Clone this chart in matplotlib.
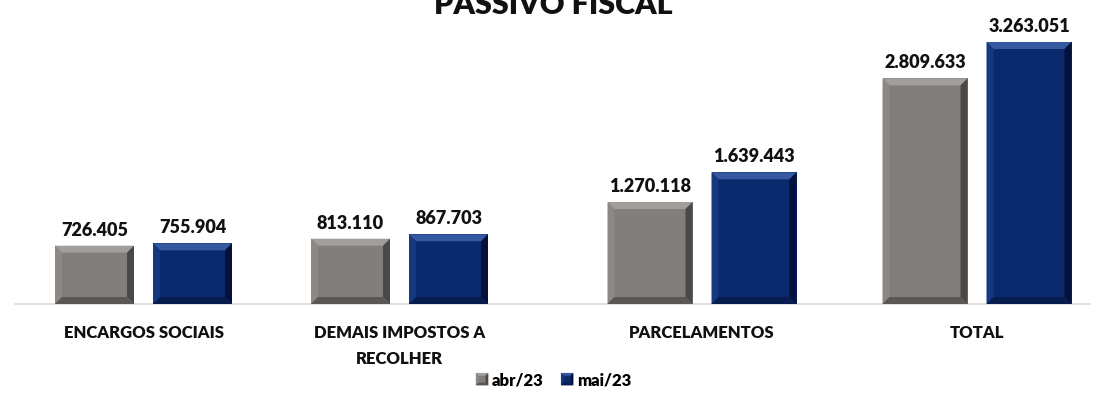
import matplotlib.pyplot as plt
from matplotlib.patches import Polygon, Rectangle
from matplotlib.legend_handler import HandlerBase

plt.rcParams['font.family'] = ['Lato', 'DejaVu Sans']

# dados
categorias = ['ENCARGOS SOCIAIS', 'DEMAIS IMPOSTOS A\nRECOLHER', 'PARCELAMENTOS', 'TOTAL']
abr23 = [726405, 813110, 1270118, 2809633]
mai23 = [755904, 867703, 1639443, 3263051]
series = ['abr/23', 'mai/23']

# layout (em pixels da imagem)
centros = [143.5, 399.5, 702, 977]
larg = [79, 79, 85, 85]
gap = 19

cinza = dict(face='#827e7b', top='#a29e9b', left='#8c8885', right='#4c4846', bottom='#5b5755')
azul = dict(face='#0b2a6d', top='#3658a0', left='#163880', right='#03123a', bottom='#071d50')

fig = plt.figure(figsize=(11.06, 4.13), dpi=100)
ax = fig.add_axes([0, 1 - 304 / 413, 1, 304 / 413])
ymax = 3786000
ax.set_xlim(0, 1106)
ax.set_ylim(0, ymax)
ax.axis('off')
upp = ymax / 304.0  # unidades por pixel


def bisel(ax, rect, c, b=7):
    x0, y0 = rect.get_x(), rect.get_y()
    x1, y1 = x0 + rect.get_width(), y0 + rect.get_height()
    bx, by = b, b * upp
    polys = [
        ([(x0, y1), (x1, y1), (x1 - bx, y1 - by), (x0 + bx, y1 - by)], c['top']),
        ([(x0, y0), (x0, y1), (x0 + bx, y1 - by), (x0 + bx, y0 + by)], c['left']),
        ([(x1, y0), (x1, y1), (x1 - bx, y1 - by), (x1 - bx, y0 + by)], c['right']),
        ([(x0, y0), (x1, y0), (x1 - bx, y0 + by), (x0 + bx, y0 + by)], c['bottom']),
    ]
    for pts, col in polys:
        ax.add_patch(Polygon(pts, closed=True, facecolor=col, edgecolor='none', zorder=3))


for i in range(len(categorias)):
    w = larg[i]
    xa = centros[i] - gap / 2 - w / 2
    xm = centros[i] + gap / 2 + w / 2
    for x, v, c in [(xa, abr23[i], cinza), (xm, mai23[i], azul)]:
        r = ax.bar(x, v, width=w, color=c['face'], zorder=2)[0]
        bisel(ax, r, c)
        ax.text(x, v + 7 * upp, f'{v:,}'.replace(',', '.'), ha='center', va='bottom',
                fontsize=13, fontweight='heavy', color='#111111')
    ax.text(centros[i], -21 * upp, categorias[i], ha='center', va='top',
            fontsize=12, fontweight='heavy', color='#111111', linespacing=1.75, clip_on=False)

ax.plot([15, 1090], [0, 0], color='#d9d9d9', lw=1.2, zorder=1, clip_on=False)

fig.text(0.5, 1 - 14 / 413, 'PASSIVO FISCAL', ha='center', va='baseline',
         fontsize=22, fontweight='heavy', color='#111111')


class BiselHandler(HandlerBase):
    def create_artists(self, legend, orig, xd, yd, width, height, fontsize, trans):
        c = orig.cores
        s = 9
        x0, y0 = xd + width - s, yd + (height - s) / 2
        x1, y1 = x0 + s, y0 + s
        b = 2
        arts = [Rectangle((x0, y0), s, s, facecolor=c['face'], edgecolor='none', transform=trans)]
        for pts, col in [
            ([(x0, y1), (x1, y1), (x1 - b, y1 - b), (x0 + b, y1 - b)], c['top']),
            ([(x0, y0), (x0, y1), (x0 + b, y1 - b), (x0 + b, y0 + b)], c['left']),
            ([(x1, y0), (x1, y1), (x1 - b, y1 - b), (x1 - b, y0 + b)], c['right']),
            ([(x0, y0), (x1, y0), (x1 - b, y0 + b), (x0 + b, y0 + b)], c['bottom']),
        ]:
            arts.append(Polygon(pts, closed=True, facecolor=col, edgecolor='none', transform=trans))
        return arts


handles = []
for cores in [cinza, azul]:
    h = Rectangle((0, 0), 1, 1)
    h.cores = cores
    handles.append(h)

fig.legend(handles, series, loc='center', bbox_to_anchor=(0.5, 1 - 380 / 413), ncol=2,
           frameon=False, handler_map={Rectangle: BiselHandler()},
           prop={'weight': 'heavy', 'size': 12}, handlelength=0.8, handletextpad=0.2,
           columnspacing=1.0)

fig.savefig('out.png', dpi=100)
